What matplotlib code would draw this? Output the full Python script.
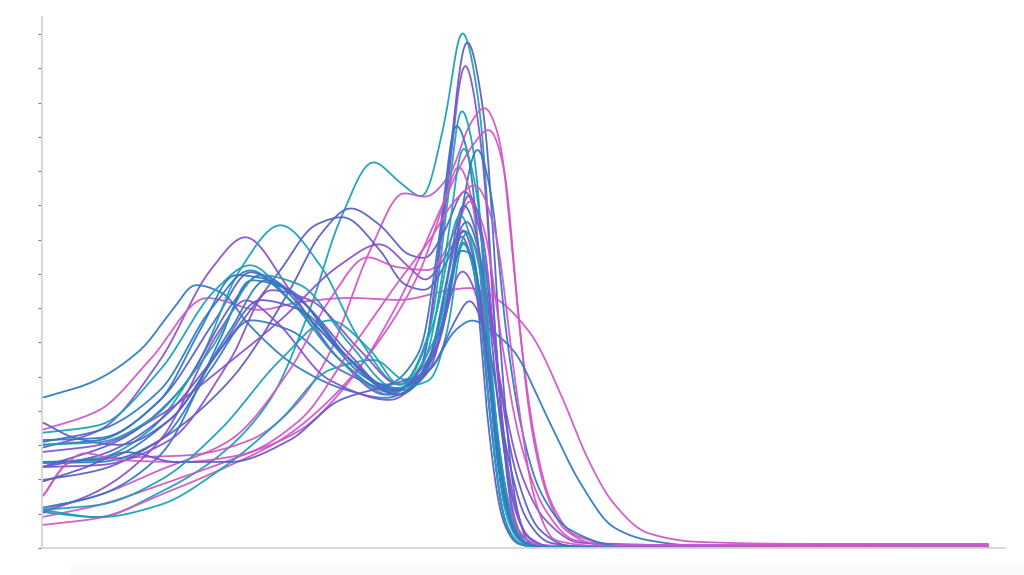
import numpy as np
import matplotlib
matplotlib.use("Agg")
import matplotlib.pyplot as plt
from matplotlib.patches import Rectangle

# ---- data (x: 0..100, y: 0..15.5) ----
l01_x = [0, 5.8, 12.5, 18.8, 24.1, 28.3, 31.5, 35.0, 37.8, 40.2, 42.6, 44.4, 46.3, 47.9, 49.3, 50.5, 52.6, 100]
l01_y = [1.05, 0.90, 1.63, 2.71, 4.32, 6.95, 9.57, 11.27, 10.68, 10.25, 12.49, 15.12, 12.78, 6.36, 1.69, 0.23, 0, 0]
l02_x = [0, 6.1, 12.5, 18.3, 22.0, 26.2, 31.5, 36.8, 40.0, 42.6, 44.9, 46.8, 48.4, 50.0, 51.6, 53.7, 100]
l02_y = [3.01, 3.15, 4.32, 6.65, 8.06, 7.24, 5.49, 4.55, 5.20, 10.16, 14.86, 12.49, 6.07, 1.40, 0.09, 0, 0]
l03_x = [0, 6.1, 12.5, 17.8, 21.5, 26.2, 31.5, 36.3, 40.0, 42.6, 44.7, 46.5, 48.1, 49.7, 51.4, 53.7, 100]
l03_y = [2.92, 3.44, 5.49, 8.11, 9.08, 7.53, 5.49, 4.47, 5.20, 9.87, 14.19, 11.62, 5.49, 1.11, 0.06, 0, 0]
l04_x = [0, 3.0, 8.2, 15.6, 22.0, 27.3, 30.4, 34.7, 38.2, 40.5, 43.1, 45.2, 46.8, 48.4, 50.0, 51.6, 53.2, 55.3, 59.0, 100]
l04_y = [1.46, 2.51, 2.63, 2.71, 3.15, 4.32, 5.69, 8.70, 10.36, 10.25, 10.89, 12.35, 12.87, 11.91, 7.82, 3.74, 1.69, 0.53, 0.09, 0.03]
l05_x = [0, 6.1, 12.5, 19.9, 27.3, 32.6, 37.8, 42.1, 45.2, 47.3, 48.9, 50.5, 52.1, 53.7, 56.3, 61.1, 100]
l05_y = [0.90, 1.26, 1.84, 2.57, 3.44, 4.90, 7.24, 9.87, 11.62, 12.23, 11.03, 6.36, 3.15, 1.40, 0.38, 0.09, 0.09]
l06_x = [0, 6.1, 11.4, 17.4, 23.0, 27.3, 32.6, 37.8, 43.1, 45.2, 47.4, 51.6, 55.1, 57.6, 60.4, 64.0, 69.2, 80.1, 100]
l06_y = [3.44, 4.03, 5.49, 7.30, 6.95, 7.18, 7.30, 7.24, 7.53, 7.59, 7.38, 6.28, 4.32, 2.66, 1.31, 0.44, 0.18, 0.12, 0.12]
l07_x = [0, 6.1, 12.5, 17.8, 22.0, 26.2, 31.5, 37.3, 41.0, 43.7, 45.5, 47.4, 49.8, 53.4, 56.9, 60.4, 64.0, 69.6, 100]
l07_y = [2.48, 2.51, 3.15, 5.20, 6.65, 6.36, 5.20, 4.61, 5.20, 6.36, 6.65, 6.36, 5.78, 3.82, 1.90, 0.61, 0.23, 0.06, 0.03]
l08_x = [0, 5.1, 10.4, 13.8, 16.2, 19.1, 21.7, 27.0, 32.2, 36.3, 40.0, 42.6, 44.4, 46.1, 47.9, 49.5, 51.1, 53.5, 100]
l08_y = [4.38, 4.82, 5.78, 6.95, 7.68, 7.44, 6.57, 5.28, 4.61, 4.38, 4.90, 6.65, 8.99, 7.82, 3.74, 1.10, 0.25, 0.02, 0]
l09_x = [0, 6.1, 11.4, 16.7, 20.9, 25.2, 29.4, 33.6, 37.8, 41.0, 42.9, 44.3, 45.8, 47.4, 48.9, 50.5, 52.5, 100]
l09_y = [2.48, 2.63, 3.44, 5.49, 8.11, 9.43, 8.26, 6.07, 4.76, 6.36, 10.16, 12.87, 11.33, 4.90, 1.10, 0.20, 0.02, 0]
l10_x = [0, 6.1, 12.5, 19.9, 26.2, 29.4, 32.6, 35.7, 38.9, 40.5, 42.6, 44.7, 46.3, 47.9, 50.0, 52.6, 55.8, 100]
l10_y = [1.98, 2.28, 3.15, 4.90, 7.53, 9.14, 9.92, 9.43, 8.55, 8.46, 9.28, 10.45, 9.28, 5.78, 2.28, 0.53, 0.06, 0]
l11_x = [0, 6.1, 12.5, 18.8, 25.2, 28.9, 31.8, 35.7, 38.4, 40.5, 42.9, 44.9, 46.8, 48.4, 50.0, 51.6, 54.0, 100]
l11_y = [2.36, 2.71, 3.74, 5.78, 8.11, 9.43, 9.66, 8.70, 7.68, 7.53, 8.41, 9.57, 7.82, 3.74, 1.10, 0.25, 0.02, 0]
l12_x = [0, 6.1, 12.5, 18.8, 25.2, 31.5, 35.7, 38.9, 40.5, 43.1, 44.7, 46.3, 48.4, 50.5, 53.2, 56.9, 100]
l12_y = [2.80, 3.01, 3.88, 5.20, 6.65, 8.26, 8.87, 8.17, 7.82, 8.70, 9.28, 8.41, 4.90, 2.28, 0.82, 0.15, 0]
l13_x = [0, 6.1, 12.5, 19.9, 26.2, 30.4, 34.4, 37.5, 41.0, 43.7, 45.2, 46.8, 48.4, 50.5, 53.2, 56.3, 61.1, 100]
l13_y = [1.11, 1.55, 2.28, 3.15, 5.20, 7.24, 8.49, 8.20, 8.11, 9.28, 10.16, 9.28, 6.36, 3.15, 1.11, 0.23, 0.09, 0.09]
l14_x = [0, 6.1, 12.5, 17.8, 22.0, 26.2, 31.5, 36.3, 40.0, 42.1, 43.7, 45.2, 46.8, 48.4, 50.0, 51.6, 54.0, 100]
l14_y = [3.09, 3.44, 4.61, 6.95, 8.11, 7.24, 5.78, 4.76, 5.78, 9.28, 12.41, 11.33, 6.36, 1.98, 0.45, 0.08, 0, 0]
l15_x = [0, 6.1, 12.5, 18.3, 22.0, 26.2, 31.5, 36.8, 40.5, 42.9, 44.5, 46.1, 47.6, 49.2, 50.7, 53.0, 100]
l15_y = [3.36, 3.59, 5.20, 7.53, 8.26, 7.24, 5.49, 4.47, 5.49, 8.99, 11.76, 10.16, 4.90, 1.20, 0.20, 0.02, 0]
l16_x = [0, 6.1, 13.5, 19.9, 23.6, 27.3, 32.6, 37.8, 42.1, 44.2, 46.0, 47.6, 48.9, 50.5, 52.6, 55.8, 61.1, 100]
l16_y = [2.51, 2.57, 3.74, 6.36, 7.82, 7.24, 5.49, 4.47, 6.07, 9.57, 11.70, 10.16, 6.65, 3.74, 1.69, 0.53, 0.06, 0]
l17_x = [0, 6.1, 12.5, 18.8, 25.2, 30.4, 35.7, 40.0, 42.6, 44.0, 45.5, 47.1, 48.7, 50.3, 52.1, 55.0, 100]
l17_y = [0.67, 0.88, 1.55, 2.28, 3.15, 4.32, 6.07, 8.11, 10.16, 11.18, 10.16, 5.78, 2.10, 0.55, 0.12, 0.06, 0.06]
l18_x = [0, 6.1, 12.5, 18.8, 21.5, 24.6, 30.4, 36.8, 41.0, 43.3, 45.1, 46.7, 48.2, 49.7, 51.3, 54.0, 100]
l18_y = [1.02, 1.69, 3.15, 6.36, 7.24, 6.65, 4.90, 4.32, 5.49, 8.41, 10.36, 8.99, 4.90, 1.60, 0.35, 0.03, 0]
l19_x = [0, 6.1, 12.5, 18.8, 22.0, 26.2, 31.5, 36.8, 40.5, 42.8, 44.5, 46.1, 47.7, 49.3, 50.7, 53.0, 100]
l19_y = [1.17, 1.55, 2.71, 6.07, 7.82, 7.53, 5.78, 4.61, 5.20, 7.82, 10.07, 8.99, 4.32, 1.10, 0.20, 0.02, 0]
l20_x = [0, 6.1, 12.5, 18.8, 25.2, 30.4, 35.2, 38.4, 41.5, 44.2, 45.8, 47.4, 48.9, 50.5, 53.0, 100]
l20_y = [1.11, 0.90, 1.26, 2.28, 3.74, 5.20, 5.49, 4.90, 6.65, 9.78, 8.41, 3.74, 0.80, 0.12, 0.01, 0]
l21_x = [0, 8.2, 14.6, 20.4, 23.0, 27.3, 32.6, 37.3, 41.0, 43.1, 44.4, 45.9, 47.4, 48.9, 50.5, 53.0, 100]
l21_y = [2.36, 3.15, 4.61, 7.24, 7.97, 7.24, 5.63, 4.47, 5.20, 7.53, 9.37, 8.11, 3.74, 0.80, 0.12, 0.01, 0]
l22_x = [0, 3.5, 8.2, 13.5, 18.8, 23.0, 27.3, 32.6, 37.3, 41.2, 43.1, 44.2, 45.7, 47.1, 48.7, 50.3, 53.0, 100]
l22_y = [3.68, 3.21, 3.01, 3.74, 5.78, 7.24, 6.95, 5.49, 4.61, 5.49, 7.53, 9.19, 8.11, 3.74, 0.80, 0.12, 0.01, 0]
l23_x = [0, 6.1, 11.4, 17.8, 23.0, 27.3, 32.6, 37.3, 41.0, 43.1, 44.4, 45.9, 47.4, 48.9, 50.5, 53.0, 100]
l23_y = [3.01, 3.09, 3.74, 5.78, 7.97, 7.68, 5.93, 4.67, 4.90, 6.65, 8.99, 7.82, 3.74, 0.80, 0.12, 0.01, 0]
l24_x = [0, 6.1, 13.5, 19.9, 24.1, 28.3, 33.6, 37.8, 41.5, 44.4, 46.1, 47.9, 49.5, 51.1, 54.0, 100]
l24_y = [2.36, 2.42, 3.15, 5.49, 7.53, 7.24, 5.78, 4.76, 5.78, 8.11, 7.24, 3.44, 0.80, 0.12, 0.01, 0]
l25_x = [0, 2.4, 4.5, 8.2, 14.6, 20.9, 27.3, 32.6, 37.8, 41.0, 43.7, 45.8, 47.9, 50.0, 52.1, 54.2, 59.0, 100]
l25_y = [1.46, 2.42, 2.77, 2.57, 2.51, 2.71, 3.74, 5.78, 7.82, 8.99, 10.16, 10.60, 9.28, 4.90, 1.40, 0.23, 0.06, 0.09]
l26_x = [0, 4.5, 9.0, 14.1, 19.9, 26.2, 31.5, 36.8, 41.0, 43.7, 45.2, 47.1, 48.9, 51.1, 53.7, 59.0, 100]
l26_y = [1.93, 2.34, 2.80, 2.51, 2.51, 3.15, 4.32, 4.76, 5.20, 6.65, 7.24, 6.07, 3.15, 0.90, 0.15, 0.01, 0]
l27_x = [0, 6.1, 12.5, 18.8, 25.2, 30.4, 34.7, 37.8, 41.5, 43.7, 45.0, 46.5, 48.1, 49.7, 51.3, 54.0, 100]
l27_y = [1.11, 1.26, 1.98, 3.44, 5.49, 6.65, 5.78, 4.76, 6.07, 8.41, 9.28, 7.82, 3.44, 0.80, 0.12, 0.01, 0]
l28_x = [0, 6.1, 12.5, 16.7, 20.4, 24.1, 29.4, 34.7, 38.4, 42.1, 44.2, 45.5, 47.0, 48.6, 50.1, 53.0, 100]
l28_y = [3.15, 3.21, 4.32, 6.36, 7.97, 7.82, 6.36, 4.90, 4.61, 6.36, 8.70, 8.55, 5.78, 1.98, 0.35, 0.02, 0]

# colour group of each line, in order
groups = ["T", "I", "P", "M", "M", "M", "B", "B", "T", "I", "I", "P", "M", "B",
          "T", "B", "M", "P", "B", "T", "I", "I", "T", "P", "M", "I", "T", "B"]
palette = {"T": "#1aa1b7", "B": "#2e7bc2", "I": "#5c5fc4", "P": "#8a50d0", "M": "#d257c8"}

series = [(l01_x, l01_y), (l02_x, l02_y), (l03_x, l03_y), (l04_x, l04_y), (l05_x, l05_y),
          (l06_x, l06_y), (l07_x, l07_y), (l08_x, l08_y), (l09_x, l09_y), (l10_x, l10_y),
          (l11_x, l11_y), (l12_x, l12_y), (l13_x, l13_y), (l14_x, l14_y), (l15_x, l15_y),
          (l16_x, l16_y), (l17_x, l17_y), (l18_x, l18_y), (l19_x, l19_y), (l20_x, l20_y),
          (l21_x, l21_y), (l22_x, l22_y), (l23_x, l23_y), (l24_x, l24_y), (l25_x, l25_y),
          (l26_x, l26_y), (l27_x, l27_y), (l28_x, l28_y)]


def pchip(x, y, xs):
    """Monotone cubic curve through the read points (smooth line rendering)."""
    x = np.asarray(x, float); y = np.asarray(y, float)
    h = np.diff(x); d = np.diff(y) / h
    n = len(x); m = np.zeros(n)
    for k in range(1, n - 1):
        if d[k - 1] * d[k] > 0:
            w1 = 2 * h[k] + h[k - 1]; w2 = h[k] + 2 * h[k - 1]
            m[k] = (w1 + w2) / (w1 / d[k - 1] + w2 / d[k])
    m[0] = d[0]
    m[-1] = 0.0
    idx = np.clip(np.searchsorted(x, xs) - 1, 0, n - 2)
    t = (xs - x[idx]) / h[idx]
    h00 = 2 * t**3 - 3 * t**2 + 1; h10 = t**3 - 2 * t**2 + t
    h01 = -2 * t**3 + 3 * t**2; h11 = t**3 - t**2
    return h00 * y[idx] + h10 * h[idx] * m[idx] + h01 * y[idx + 1] + h11 * h[idx] * m[idx + 1]


def soften(xs, ys, sigma=0.3):
    step = xs[1] - xs[0]
    r = int(4 * sigma / step)
    k = np.exp(-0.5 * ((np.arange(-r, r + 1) * step) / sigma) ** 2)
    k /= k.sum()
    padded = np.concatenate([np.full(r, ys[0]), ys, np.full(r, ys[-1])])
    return np.convolve(padded, k, mode="valid")


fig = plt.figure(figsize=(10.24, 5.75), dpi=100)
fig.patch.set_facecolor("white")
ax = fig.add_axes([42 / 1024, 27 / 575, 963 / 1024, 531 / 575])
fig.patches.append(Rectangle((70 / 1024, 0), 1 - 70 / 1024, 10 / 575, transform=fig.transFigure,
                             facecolor="#fafafc", edgecolor="none", zorder=-1))

xs = np.linspace(0, 100, 4001)
for (sx, sy), g in zip(series, groups):
    ys = soften(xs, pchip(sx, sy, xs))
    ax.plot(xs, ys, color=palette[g], lw=1.3, alpha=0.95, solid_capstyle="round")

ax.set_xlim(0, 101.8)
ax.set_ylim(0, 15.5)
for s in ["top", "right"]:
    ax.spines[s].set_visible(False)
for s in ["left", "bottom"]:
    ax.spines[s].set_color("#d6d6d6")
    ax.spines[s].set_linewidth(1.3)
ax.set_yticks(np.arange(0, 16, 1))
ax.set_yticklabels([])
ax.set_xticks([])
ax.tick_params(axis="y", direction="out", length=3, width=0.8, color="#777777")
fig.savefig("out.png", dpi=100)
